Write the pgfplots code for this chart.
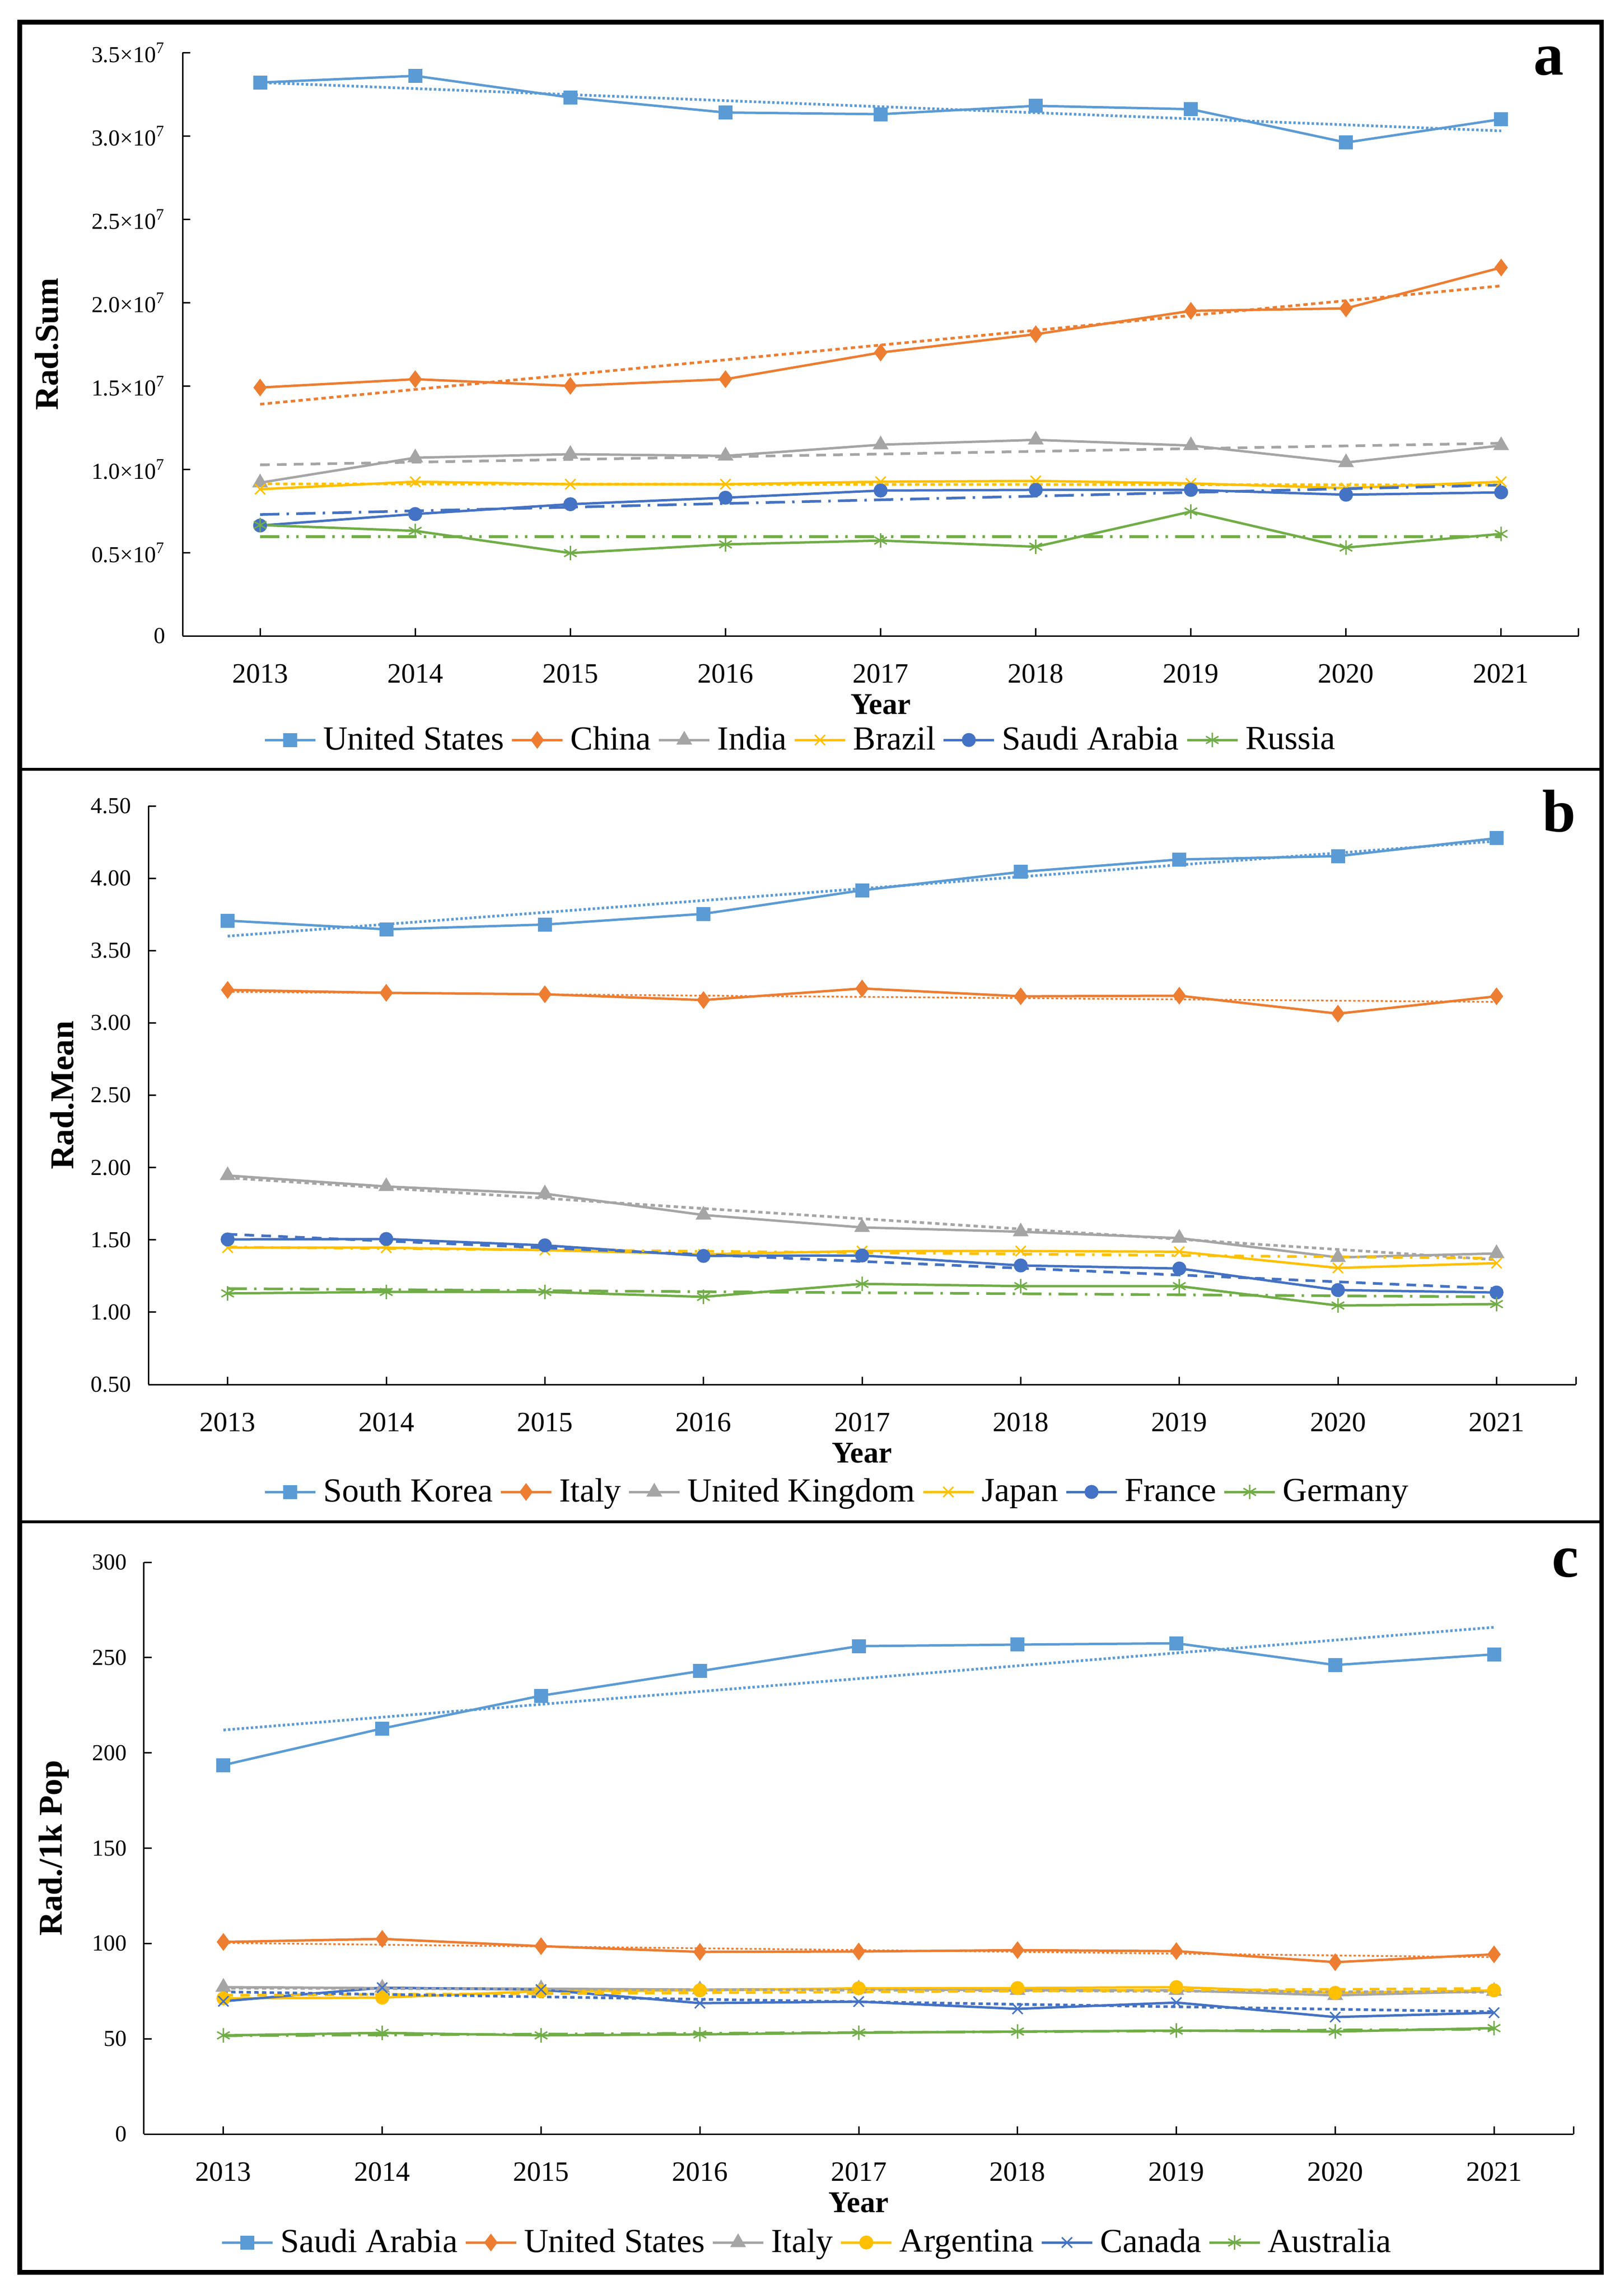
\documentclass[border=0pt]{standalone}
\usepackage{fontspec}
\setmainfont{Liberation Serif}
\usepackage{pgfplots}
\pgfplotsset{compat=1.18}

\definecolor{sA}{HTML}{5B9BD5}
\definecolor{sB}{HTML}{ED7D31}
\definecolor{sC}{HTML}{A5A5A5}
\definecolor{sD}{HTML}{FFC000}
\definecolor{sE}{HTML}{4472C4}
\definecolor{sF}{HTML}{70AD47}

\pgfplotsset{
  panel/.style={
    scale only axis,
    anchor=south west,
    clip=false,
    axis lines=left,
    axis line style={-, line width=0.6pt},
    tick align=inside,
    tick style={black, line width=0.6pt},
    major tick length=3.2pt,
    xmin=2012.5, xmax=2021.5,
    xtick={2013,2014,2015,2016,2017,2018,2019,2020,2021},
    xticklabels={2013,2014,2015,2016,2017,2018,2019,2020,2021},
    extra x ticks={2021.5}, extra x tick labels={},
    xticklabel style={font=\fontsize{11.6}{13}\selectfont, anchor=center, yshift=-15.6pt},
    yticklabel style={font=\fontsize{9.5}{11}\selectfont, anchor=east, inner sep=0pt, xshift=-7pt},
    scaled y ticks=false,
    xlabel={Year},
    xlabel style={font=\bfseries\fontsize{12.5}{14}\selectfont, at={(axis description cs:0.5,0)}, anchor=center, yshift=-28.5pt},
    ylabel style={font=\bfseries\fontsize{13.8}{16}\selectfont, anchor=center},
    legend style={draw=none, fill=none, anchor=center, legend columns=-1,
      font=\fontsize{14}{16}\selectfont, nodes={inner xsep=2.8pt, inner ysep=1pt},
      /tikz/every even column/.append style={column sep=0pt}},
    legend image code/.code={\draw[mark repeat=2,mark phase=2]
      plot coordinates {(0pt,0pt) (10.5pt,0pt) (21pt,0pt)};},
    every axis plot/.append style={line width=1pt},
  },
  mk/.style={mark options={solid, line width=0.6pt}},
  trd/.style={forget plot, line width=1.1pt, no marks},
  rdot/.style={dash pattern=on 1pt off 0.9pt},
  sdot/.style={dash pattern=on 1.8pt off 1.4pt},
  dsh/.style={dash pattern=on 4pt off 3pt},
  dshdot/.style={dash pattern=on 4pt off 3pt on 1pt off 3pt},
  ldshdot/.style={dash pattern=on 8pt off 3pt on 1pt off 3pt},
  ldshdd/.style={dash pattern=on 8pt off 3pt on 1pt off 3pt on 1pt off 3pt},
}

\begin{document}
\begin{tikzpicture}
\path[use as bounding box] (0pt,0pt) rectangle (674.2pt,-952.4pt);

% ---------------- panel a ----------------
\begin{axis}[panel,
  at={(75.8pt,-264pt)}, width=579.8pt, height=242.2pt,
  ymin=0, ymax=35e6,
  ytick={0,5e6,10e6,15e6,20e6,25e6,30e6,35e6},
  yticklabels={0, 0.5×10\textsuperscript{7}, 1.0×10\textsuperscript{7}, 1.5×10\textsuperscript{7},
    2.0×10\textsuperscript{7}, 2.5×10\textsuperscript{7}, 3.0×10\textsuperscript{7}, 3.5×10\textsuperscript{7}},
  ylabel={Rad.Sum},
  ylabel style={at={(axis description cs:-0.0973,0.5)}},
  legend style={at={(axis description cs:0.4443,-0.1784)}},
]
\addplot[sA, mk, mark=square*, mark size=2.6pt] coordinates {
  (2013,33.2e6) (2014,33.6e6) (2015,32.3e6) (2016,31.4e6) (2017,31.3e6)
  (2018,31.8e6) (2019,31.6e6) (2020,29.6e6) (2021,31.0e6)};
\addlegendentry{United States}
\addplot[sB, mk, mark=diamond*, mark size=3.2pt] coordinates {
  (2013,14.9e6) (2014,15.4e6) (2015,15.0e6) (2016,15.4e6) (2017,17.0e6)
  (2018,18.1e6) (2019,19.5e6) (2020,19.65e6) (2021,22.1e6)};
\addlegendentry{China}
\addplot[sC, mk, mark=triangle*, mark size=3.2pt] coordinates {
  (2013,9.19e6) (2014,10.69e6) (2015,10.9e6) (2016,10.8e6) (2017,11.47e6)
  (2018,11.76e6) (2019,11.42e6) (2020,10.4e6) (2021,11.42e6)};
\addlegendentry{India}
\addplot[sD, mk, mark=x, mark size=3pt] coordinates {
  (2013,8.8e6) (2014,9.25e6) (2015,9.1e6) (2016,9.1e6) (2017,9.25e6)
  (2018,9.3e6) (2019,9.15e6) (2020,8.87e6) (2021,9.25e6)};
\addlegendentry{Brazil}
\addplot[sE, mk, mark=*, mark size=2.6pt] coordinates {
  (2013,6.62e6) (2014,7.31e6) (2015,7.9e6) (2016,8.29e6) (2017,8.72e6)
  (2018,8.76e6) (2019,8.76e6) (2020,8.47e6) (2021,8.61e6)};
\addlegendentry{Saudi Arabia}
\addplot[sF, mk, mark=asterisk, mark size=3pt] coordinates {
  (2013,6.65e6) (2014,6.3e6) (2015,4.97e6) (2016,5.49e6) (2017,5.72e6)
  (2018,5.35e6) (2019,7.46e6) (2020,5.3e6) (2021,6.12e6)};
\addlegendentry{Russia}
% trend lines
\addplot[trd, sA, rdot] coordinates {(2013,33.2e6) (2021,30.3e6)};
\addplot[trd, sB, sdot] coordinates {(2013,13.9e6) (2021,21.0e6)};
\addplot[trd, sC, dsh] coordinates {(2013,10.26e6) (2021,11.56e6)};
\addplot[trd, sD, sdot] coordinates {(2013,9.12e6) (2021,9.06e6)};
\addplot[trd, sE, ldshdot] coordinates {(2013,7.28e6) (2021,9.05e6)};
\addplot[trd, sF, ldshdd] coordinates {(2013,5.95e6) (2021,5.95e6)};
\end{axis}

% ---------------- panel b ----------------
\begin{axis}[panel,
  at={(61.6pt,-574.8pt)}, width=592.8pt, height=240.2pt,
  ymin=0.5, ymax=4.5,
  ytick={0.5,1,1.5,2,2.5,3,3.5,4,4.5},
  yticklabels={0.50,1.00,1.50,2.00,2.50,3.00,3.50,4.00,4.50},
  ylabel={Rad.Mean},
  ylabel style={at={(axis description cs:-0.0604,0.5)}},
  legend style={at={(axis description cs:0.4841,-0.1857)}},
]
\addplot[sA, mk, mark=square*, mark size=2.6pt] coordinates {
  (2013,3.707) (2014,3.647) (2015,3.680) (2016,3.754) (2017,3.917)
  (2018,4.044) (2019,4.130) (2020,4.153) (2021,4.277)};
\addlegendentry{South Korea}
\addplot[sB, mk, mark=diamond*, mark size=3.2pt] coordinates {
  (2013,3.228) (2014,3.208) (2015,3.198) (2016,3.158) (2017,3.238)
  (2018,3.184) (2019,3.188) (2020,3.064) (2021,3.184)};
\addlegendentry{Italy}
\addplot[sC, mk, mark=triangle*, mark size=3.2pt] coordinates {
  (2013,1.945) (2014,1.869) (2015,1.819) (2016,1.672) (2017,1.586)
  (2018,1.556) (2019,1.512) (2020,1.379) (2021,1.406)};
\addlegendentry{United Kingdom}
\addplot[sD, mk, mark=x, mark size=3pt] coordinates {
  (2013,1.446) (2014,1.446) (2015,1.429) (2016,1.400) (2017,1.423)
  (2018,1.423) (2019,1.418) (2020,1.306) (2021,1.339)};
\addlegendentry{Japan}
\addplot[sE, mk, mark=*, mark size=2.6pt] coordinates {
  (2013,1.503) (2014,1.506) (2015,1.462) (2016,1.389) (2017,1.392)
  (2018,1.323) (2019,1.302) (2020,1.153) (2021,1.136)};
\addlegendentry{France}
\addplot[sF, mk, mark=asterisk, mark size=3pt] coordinates {
  (2013,1.130) (2014,1.140) (2015,1.140) (2016,1.106) (2017,1.196)
  (2018,1.180) (2019,1.180) (2020,1.046) (2021,1.056)};
\addlegendentry{Germany}
% trend lines
\addplot[trd, sA, rdot] coordinates {(2013,3.600) (2021,4.257)};
\addplot[trd, sB, rdot, line width=0.7pt] coordinates {(2013,3.215) (2021,3.145)};
\addplot[trd, sC, sdot] coordinates {(2013,1.929) (2021,1.363)};
\addplot[trd, sD, dshdot] coordinates {(2013,1.450) (2021,1.373)};
\addplot[trd, sE, dsh] coordinates {(2013,1.539) (2021,1.163)};
\addplot[trd, sF, ldshdot] coordinates {(2013,1.163) (2021,1.106)};
\end{axis}

% ---------------- panel c ----------------
\begin{axis}[panel,
  at={(59.8pt,-886pt)}, width=593.6pt, height=237.4pt,
  ymin=0, ymax=300,
  ytick={0,50,100,150,200,250,300},
  yticklabels={0,50,100,150,200,250,300},
  ylabel={Rad./1k Pop},
  ylabel style={at={(axis description cs:-0.063,0.5)}},
  legend style={at={(axis description cs:0.4656,-0.1896)}},
]
\addplot[sA, mk, mark=square*, mark size=2.6pt] coordinates {
  (2013,193.6) (2014,212.8) (2015,230.0) (2016,242.9) (2017,256.0)
  (2018,256.8) (2019,257.5) (2020,246.1) (2021,251.7)};
\addlegendentry{Saudi Arabia}
\addplot[sB, mk, mark=diamond*, mark size=3.2pt] coordinates {
  (2013,100.8) (2014,102.4) (2015,98.6) (2016,95.6) (2017,95.8)
  (2018,96.5) (2019,96.0) (2020,90.2) (2021,94.3)};
\addlegendentry{United States}
\addplot[sC, mk, mark=triangle*, mark size=3.2pt] coordinates {
  (2013,77.1) (2014,76.6) (2015,76.3) (2016,75.8) (2017,76.2)
  (2018,75.4) (2019,75.4) (2020,72.8) (2021,75.0)};
\addlegendentry{Italy}
\addplot[sD, mk, mark=*, mark size=2.6pt] coordinates {
  (2013,71.2) (2014,71.6) (2015,75.0) (2016,75.4) (2017,76.5)
  (2018,76.6) (2019,77.1) (2020,74.1) (2021,75.4)};
\addlegendentry{Argentina}
\addplot[sE, mk, mark=x, mark size=3pt] coordinates {
  (2013,69.7) (2014,76.8) (2015,75.8) (2016,68.7) (2017,69.5)
  (2018,65.7) (2019,69.0) (2020,61.4) (2021,63.7)};
\addlegendentry{Canada}
\addplot[sF, mk, mark=asterisk, mark size=3pt] coordinates {
  (2013,51.8) (2014,53.1) (2015,51.8) (2016,52.3) (2017,53.2)
  (2018,53.8) (2019,54.3) (2020,53.8) (2021,55.6)};
\addlegendentry{Australia}
% trend lines
\addplot[trd, sA, rdot] coordinates {(2013,212.0) (2021,265.9)};
\addplot[trd, sB, rdot, line width=0.7pt] coordinates {(2013,100.3) (2021,92.8)};
\addplot[trd, sC, sdot] coordinates {(2013,76.6) (2021,74.4)};
\addplot[trd, sD, dsh] coordinates {(2013,72.8) (2021,76.4)};
\addplot[trd, sE, sdot] coordinates {(2013,74.6) (2021,64.2)};
\addplot[trd, sF, ldshdot] coordinates {(2013,51.6) (2021,55.0)};
\end{axis}

% frame, separators and panel letters
\draw[line width=1.9pt] (8.2pt,-9.2pt) rectangle (665.1pt,-943.4pt);
\draw[line width=1.3pt] (8.2pt,-319.4pt) -- (665.1pt,-319.4pt);
\draw[line width=1.3pt] (8.2pt,-631.8pt) -- (665.1pt,-631.8pt);
\node[font=\bfseries\fontsize{25}{30}\selectfont, inner sep=0pt] at (643.2pt,-25.4pt) {a};
\node[font=\bfseries\fontsize{25}{30}\selectfont, inner sep=0pt] at (647.4pt,-336.8pt) {b};
\node[font=\bfseries\fontsize{25}{30}\selectfont, inner sep=0pt] at (650pt,-649pt) {c};
\end{tikzpicture}
\end{document}
